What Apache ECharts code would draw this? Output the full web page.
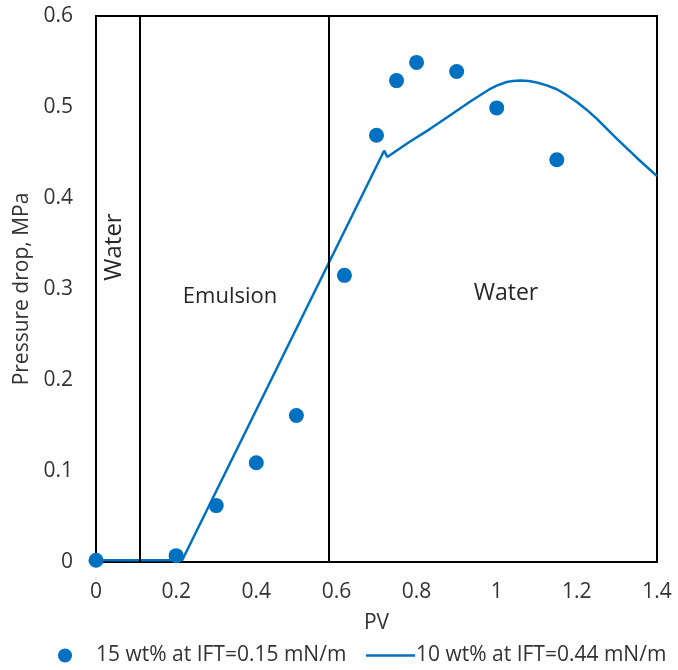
<!DOCTYPE html>
<html>
<head>
<meta charset="utf-8">
<script src="https://cdn.jsdelivr.net/npm/echarts@6/dist/echarts.min.js"></script>
<style>
  html, body { margin: 0; padding: 0; background: #fff; }
  #chart { width: 678px; height: 670px; }
</style>
</head>
<body>
<div id="chart"></div>
<script>
// Measured pressure drop (15 wt% surfactant) vs injected pore volumes
const measuredPV = [0, 0.2, 0.3, 0.4, 0.5, 0.62, 0.7, 0.75, 0.8, 0.9, 1.0, 1.15];
const measuredDP = [0.002, 0.007, 0.062, 0.109, 0.161, 0.315, 0.469, 0.529, 0.549, 0.539, 0.499, 0.442];

// Pressure drop curve (10 wt% surfactant)
const curvePV = [0, 0.1, 0.215, 0.719, 0.727, 0.78, 0.834, 0.884, 0.934, 0.984, 1.0, 1.025, 1.04, 1.059, 1.08, 1.1, 1.125, 1.15, 1.175, 1.2, 1.225, 1.25, 1.3, 1.35, 1.4];
const curveDP = [0.002, 0.002, 0.002, 0.452, 0.445, 0.461, 0.476, 0.491, 0.506, 0.520, 0.5235, 0.5275, 0.5285, 0.529, 0.5285, 0.527, 0.5238, 0.5195, 0.513, 0.5055, 0.4968, 0.487, 0.465, 0.444, 0.424];

// Flow regime boundaries (PV)
const phaseBoundaries = [0.11, 0.583];

const seriesNames = ['15 wt% at IFT=0.15 mN/m', '10 wt% at IFT=0.44 mN/m'];
const xTicks = { min: 0, max: 1.4, interval: 0.2 };
const yTicks = { min: 0, max: 0.6, interval: 0.1 };

const FONT = 'Open Sans';
const BLUE = '#0070C0';
const TEXT = '#333333';

const chart = echarts.init(document.getElementById('chart'), null, { renderer: 'canvas' });

const zip = (xs, ys) => xs.map((x, i) => [x, ys[i]]);

chart.setOption({
  animation: false,
  backgroundColor: '#ffffff',
  textStyle: { fontFamily: FONT },
  grid: {
    left: 96, right: 21, top: 16, bottom: 108,
    show: true, borderColor: '#000', borderWidth: 2, backgroundColor: 'transparent'
  },
  xAxis: {
    type: 'value',
    min: xTicks.min, max: xTicks.max, interval: xTicks.interval,
    name: 'PV', nameLocation: 'middle', nameGap: 51,
    nameTextStyle: { fontFamily: FONT, fontSize: 21, color: TEXT },
    axisLine: { show: true, lineStyle: { color: '#000', width: 2 } },
    axisTick: { show: false },
    splitLine: { show: false },
    axisLabel: { margin: 20, fontFamily: FONT, fontSize: 21, color: TEXT }
  },
  yAxis: {
    type: 'value',
    min: yTicks.min, max: yTicks.max, interval: yTicks.interval,
    name: 'Pressure drop, MPa', nameLocation: 'middle', nameGap: 62, nameRotate: 90,
    nameTextStyle: { fontFamily: FONT, fontSize: 21, color: TEXT },
    axisLine: { show: true, lineStyle: { color: '#000', width: 2 } },
    axisTick: { show: false },
    splitLine: { show: false },
    axisLabel: { margin: 23, fontFamily: FONT, fontSize: 21, color: TEXT }
  },
  legend: [
    {
      data: [{ name: seriesNames[0], icon: 'circle' }],
      left: 58, top: 645, padding: 0,
      itemWidth: 14, itemHeight: 14,
      textStyle: { fontFamily: FONT, fontSize: 21, color: TEXT, padding: [0, 0, 0, 19] }
    },
    {
      data: [{ name: seriesNames[1], icon: 'rect' }],
      left: 366, top: 645, padding: 0,
      itemWidth: 49, itemHeight: 2.5,
      textStyle: { fontFamily: FONT, fontSize: 21, color: TEXT, padding: [0, 0, 0, -4] }
    }
  ],
  graphic: [
    {
      type: 'text', x: 114, y: 247, rotation: Math.PI / 2,
      style: { text: 'Water', fontFamily: FONT, fontSize: 24, fill: '#262626', align: 'center', verticalAlign: 'middle' }
    },
    {
      type: 'text', x: 230, y: 297,
      style: { text: 'Emulsion', fontFamily: FONT, fontSize: 22, fill: '#262626', align: 'center', verticalAlign: 'middle' }
    },
    {
      type: 'text', x: 506, y: 293,
      style: { text: 'Water', fontFamily: FONT, fontSize: 23, fill: '#262626', align: 'center', verticalAlign: 'middle' }
    }
  ],
  series: [
    {
      name: seriesNames[0],
      type: 'scatter',
      data: zip(measuredPV, measuredDP),
      symbol: 'circle',
      symbolSize: 15,
      itemStyle: { color: BLUE, opacity: 1 },
      z: 4
    },
    {
      name: seriesNames[1],
      type: 'line',
      data: zip(curvePV, curveDP),
      showSymbol: false,
      symbol: 'none',
      lineStyle: { color: BLUE, width: 2.5 },
      itemStyle: { color: BLUE },
      z: 3,
      markLine: {
        silent: true,
        symbol: 'none',
        label: { show: false },
        lineStyle: { color: '#000', width: 2, type: 'solid' },
        data: phaseBoundaries.map(v => ({ xAxis: v }))
      }
    }
  ]
});
</script>
</body>
</html>
